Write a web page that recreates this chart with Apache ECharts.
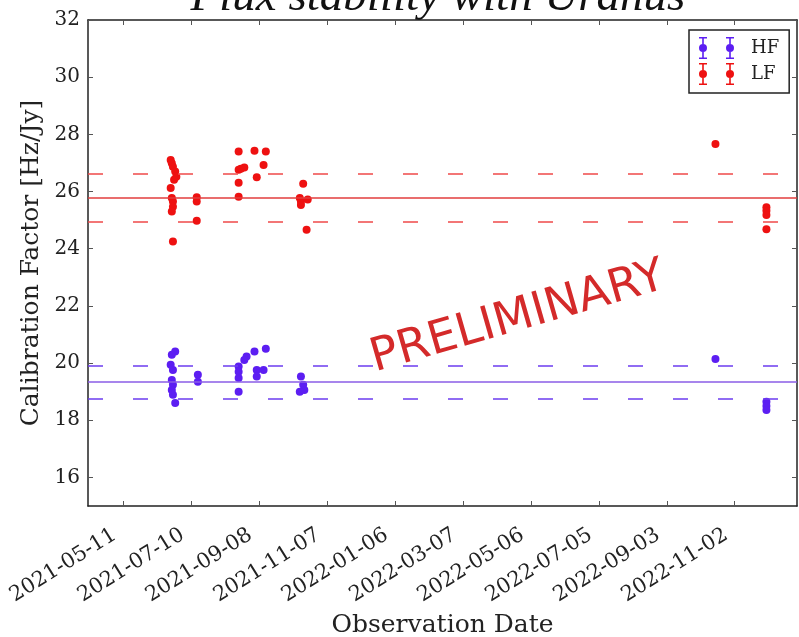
<!DOCTYPE html>
<html>
<head>
<meta charset="utf-8">
<script src="https://cdn.jsdelivr.net/npm/echarts@6/dist/echarts.min.js"></script>
<style>
html, body { margin: 0; padding: 0; background: #fff; }
#chart { width: 799px; height: 637px; }
</style>
</head>
<body>
<div id="chart"></div>
<script>
// x axis tick labels (every 60 days)
var tickDates = ['2021-05-11', '2021-07-10', '2021-09-08', '2021-11-07', '2022-01-06',
  '2022-03-07', '2022-05-06', '2022-07-05', '2022-09-03', '2022-11-02'];
var yTicks = [16, 18, 20, 22, 24, 26, 28, 30, 32];

// LF calibration factors
var lfDates = ['2021-06-22', '2021-06-23', '2021-06-24', '2021-06-26', '2021-06-27', '2021-06-25',
  '2021-06-22', '2021-06-23', '2021-06-24', '2021-06-24', '2021-06-23', '2021-06-24',
  '2021-07-15', '2021-07-15', '2021-07-15',
  '2021-08-21', '2021-08-21', '2021-08-23', '2021-08-26', '2021-08-21', '2021-08-21',
  '2021-09-04', '2021-09-14', '2021-09-12', '2021-09-06',
  '2021-10-17', '2021-10-14', '2021-10-15', '2021-10-21', '2021-10-15', '2021-10-20',
  '2022-10-16',
  '2022-11-30', '2022-11-30', '2022-11-30', '2022-11-30'];
var lfValues = [27.10, 26.99, 26.87, 26.70, 26.52, 26.41,
  26.12, 25.77, 25.65, 25.47, 25.30, 24.25,
  25.80, 25.65, 24.98,
  27.40, 26.76, 26.80, 26.84, 26.31, 25.82,
  27.43, 27.40, 26.93, 26.50,
  26.27, 25.77, 25.65, 25.72, 25.53, 24.66,
  27.66,
  25.45, 25.33, 25.18, 24.68];

// HF calibration factors
var hfDates = ['2021-06-26', '2021-06-23', '2021-06-22', '2021-06-24', '2021-06-23', '2021-06-24',
  '2021-06-23', '2021-06-24', '2021-06-26',
  '2021-07-16', '2021-07-16',
  '2021-08-21', '2021-08-21', '2021-08-21', '2021-08-21',
  '2021-08-28', '2021-08-26', '2021-09-04', '2021-09-14', '2021-09-06', '2021-09-12', '2021-09-06',
  '2021-10-15', '2021-10-17', '2021-10-18', '2021-10-14',
  '2022-10-16',
  '2022-11-30', '2022-11-30', '2022-11-30'];
var hfValues = [20.40, 20.29, 19.94, 19.76, 19.41, 19.24,
  19.06, 18.89, 18.60,
  19.59, 19.35,
  19.88, 19.70, 19.48, 19.00,
  20.23, 20.11, 20.40, 20.50, 19.76, 19.76, 19.53,
  19.53, 19.24, 19.06, 19.00,
  20.14,
  18.65, 18.50, 18.36];

// mean and spread lines
var lfMean = 25.78, lfStd = 0.85;
var hfMean = 19.33, hfStd = 0.57;

var hfColor = '#5c1ef2', hfLine = '#8a5ce6';
var lfColor = '#ee1111', lfLine = '#e23c3c';

function toTime(s) { return Date.parse(s + 'T00:00:00Z'); }
function fmtDate(v) { return new Date(v).toISOString().slice(0, 10); }

var tickTimes = tickDates.map(toTime);
var xMin = toTime('2021-04-10'), xMax = toTime('2022-12-27');

var serif = 'DejaVu Serif';
var errIcon = 'path://M0 0H8V1.5H0Z M3.2 0H4.8V22H3.2Z M0 20.5H8V22H0Z M0 11A4 4 0 1 1 8 11A4 4 0 1 1 0 11Z ' +
  'M27 0H35V1.5H27Z M30.2 0H31.8V22H30.2Z M27 20.5H35V22H27Z M27 11A4 4 0 1 1 35 11A4 4 0 1 1 27 11Z';

function meanLines(mean, std, color, dashColor) {
  return {
    symbol: 'none',
    silent: true,
    label: { show: false },
    data: [
      { yAxis: mean, lineStyle: { type: 'solid', color: color, width: 1.6 } },
      { yAxis: mean + std, lineStyle: { type: [15, 30], color: dashColor, width: 1.6 } },
      { yAxis: mean - std, lineStyle: { type: [15, 30], color: dashColor, width: 1.6 } }
    ]
  };
}

function xAxisCfg(pos, showLabel) {
  return {
    type: 'value',
    position: pos,
    min: xMin,
    max: xMax,
    axisLine: { show: true, onZero: false, lineStyle: { color: '#222', width: 1.5 } },
    axisTick: { show: true, inside: true, length: 5, customValues: tickTimes, lineStyle: { color: '#555' } },
    axisLabel: {
      show: showLabel, customValues: tickTimes, formatter: fmtDate, rotate: 32,
      fontFamily: serif, fontSize: 21, color: '#222', margin: 22, padding: [0, 10, 0, 0]
    },
    splitLine: { show: false }
  };
}

function yAxisCfg(pos, showLabel) {
  return {
    type: 'value',
    position: pos,
    min: 15,
    max: 32,
    axisLine: { show: true, onZero: false, lineStyle: { color: '#222', width: 1.5 } },
    axisTick: { show: true, inside: true, length: 5, customValues: yTicks, lineStyle: { color: '#555' } },
    axisLabel: { show: showLabel, customValues: yTicks, fontFamily: serif, fontSize: 20, color: '#222', margin: 8 },
    splitLine: { show: false }
  };
}

var xBottom = xAxisCfg('bottom', true);
xBottom.name = 'Observation Date';
xBottom.nameLocation = 'middle';
xBottom.nameGap = 98;
xBottom.nameTextStyle = { fontFamily: serif, fontSize: 25, color: '#222' };

var yLeft = yAxisCfg('left', true);
yLeft.name = 'Calibration Factor [Hz/Jy]';
yLeft.nameLocation = 'middle';
yLeft.nameGap = 40;
yLeft.nameTextStyle = { fontFamily: serif, fontSize: 25, color: '#222' };

var chart = echarts.init(document.getElementById('chart'), null, { renderer: 'canvas' });
chart.setOption({
  animation: false,
  backgroundColor: '#fff',
  grid: { left: 88, right: 2, top: 20, bottom: 131, containLabel: false, outerBoundsMode: 'none' },
  xAxis: [xBottom, xAxisCfg('top', false)],
  yAxis: [yLeft, yAxisCfg('right', false)],
  legend: {
    data: ['HF', 'LF'],
    orient: 'vertical',
    left: 689,
    top: 30,
    padding: [7, 10, 8, 10],
    itemWidth: 35,
    itemHeight: 22,
    itemGap: 4,
    icon: errIcon,
    borderColor: '#222',
    borderWidth: 1.5,
    borderRadius: 0,
    backgroundColor: '#fff',
    textStyle: { fontFamily: serif, fontSize: 18, color: '#222', padding: [0, 0, 0, 12] }
  },
  graphic: [
    {
      type: 'text', x: 438, y: -2, silent: true,
      style: {
        text: 'Flux stability with Uranus', align: 'center', verticalAlign: 'middle',
        font: 'italic 47px "Liberation Serif"', fill: '#111'
      }
    },
    {
      type: 'text', x: 518, y: 318, rotation: 16 * Math.PI / 180, silent: true, z: 100,
      style: {
        text: 'PRELIMINARY', align: 'center', verticalAlign: 'middle',
        font: '46px "DejaVu Sans"', fill: '#d42a2a'
      }
    }
  ],
  series: [
    {
      name: 'HF',
      type: 'scatter',
      symbolSize: 8,
      itemStyle: { color: hfColor, opacity: 1 },
      data: hfDates.map(function (d, i) { return [toTime(d), hfValues[i]]; }),
      markLine: meanLines(hfMean, hfStd, hfLine, '#6c3cf0')
    },
    {
      name: 'LF',
      type: 'scatter',
      symbolSize: 8,
      itemStyle: { color: lfColor, opacity: 1 },
      data: lfDates.map(function (d, i) { return [toTime(d), lfValues[i]]; }),
      markLine: meanLines(lfMean, lfStd, lfLine, '#f04a4a')
    }
  ]
});
</script>
</body>
</html>
